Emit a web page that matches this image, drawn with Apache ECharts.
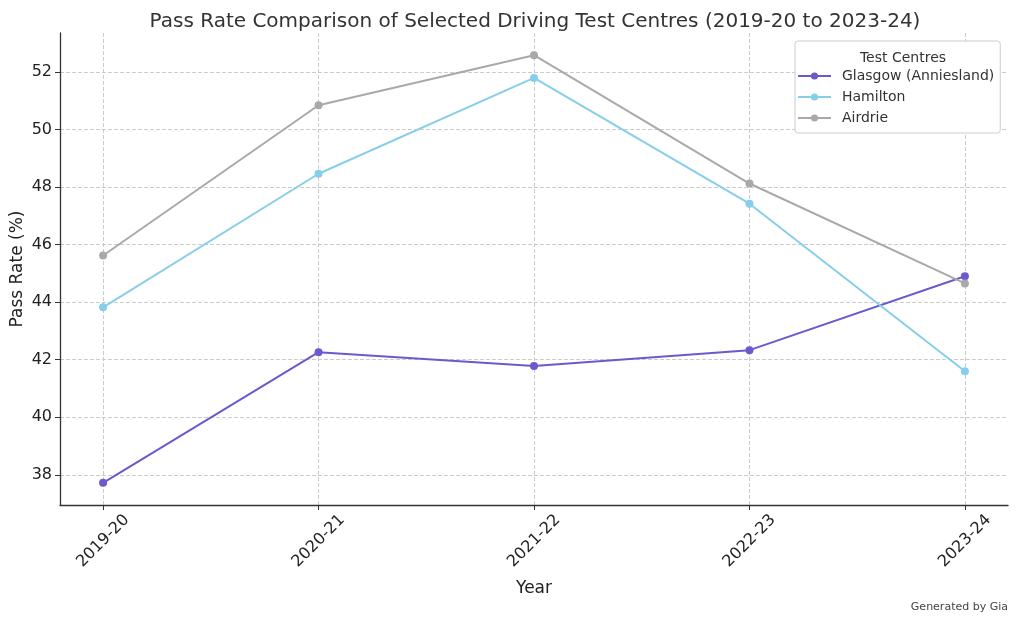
<!DOCTYPE html>
<html>
<head>
<meta charset="utf-8">
<script src="https://cdn.jsdelivr.net/npm/echarts@6/dist/echarts.min.js"></script>
<style>
  html, body { margin: 0; padding: 0; background: #fff; }
  #chart { width: 1024px; height: 618px; }
</style>
</head>
<body>
<div id="chart"></div>
<script>
// 年份类目
const years = ['2019-20', '2020-21', '2021-22', '2022-23', '2023-24'];
// 各考点通过率 (%)
const glasgow = [37.72, 42.26, 41.78, 42.33, 44.9];
const hamilton = [43.82, 48.46, 51.79, 47.42, 41.6];
const airdrie = [45.62, 50.84, 52.58, 48.12, 44.65];
// y轴刻度
const yTicks = [38, 40, 42, 44, 46, 48, 50, 52];

const fontFamily = '"DejaVu Sans", sans-serif';
const toPoints = (arr) => arr.map((v, i) => [i, v]);

const myChart = echarts.init(document.getElementById('chart'));

function makeSeries(name, data, color) {
  return {
    name: name,
    type: 'line',
    data: toPoints(data),
    symbol: 'circle',
    symbolSize: 8,
    lineStyle: { width: 2, color: color },
    itemStyle: { color: color },
    emphasis: { disabled: true },
  };
}

myChart.setOption({
  animation: false,
  textStyle: { fontFamily: fontFamily },
  title: [
    {
      text: 'Pass Rate Comparison of Selected Driving Test Centres (2019-20 to 2023-24)',
      left: 530,
      textAlign: 'center',
      top: 7,
      textStyle: { fontSize: 20, fontWeight: 'normal', color: '#333', fontFamily: fontFamily },
    },
    {
      text: 'Test Centres',
      left: 898,
      textAlign: 'center',
      top: 46,
      textStyle: { fontSize: 14, fontWeight: 'normal', color: '#333', fontFamily: fontFamily },
    },
    {
      text: 'Generated by Gia',
      right: 11,
      top: 597,
      textStyle: { fontSize: 11, fontWeight: 'normal', color: '#444', fontFamily: fontFamily },
    },
  ],
  legend: {
    orient: 'vertical',
    left: 795,
    top: 41,
    width: 206,
    padding: [27, 6, 7, 2],
    itemGap: 5,
    itemWidth: 33,
    itemHeight: 9,
    backgroundColor: '#fff',
    borderColor: '#ccc',
    borderWidth: 1,
    borderRadius: 3,
    textStyle: { fontSize: 14, color: '#333', fontFamily: fontFamily, lineHeight: 16, padding: [0, 0, 0, 6] },
    data: ['Glasgow (Anniesland)', 'Hamilton', 'Airdrie'],
  },
  grid: { left: 60, right: 16, top: 33, bottom: 113, outerBoundsMode: 'none' },
  xAxis: {
    type: 'value',
    min: -0.2,
    max: 4.2,
    name: 'Year',
    nameLocation: 'middle',
    nameGap: 75,
    nameMoveOverlap: false,
    nameTextStyle: { fontSize: 17, color: '#222' },
    axisLine: { onZero: false, lineStyle: { color: '#333', width: 1.3 } },
    axisTick: { show: true, length: 5, lineStyle: { color: '#333' }, customValues: [0, 1, 2, 3, 4] },
    axisLabel: {
      customValues: [0, 1, 2, 3, 4],
      formatter: (v) => years[Math.round(v)],
      rotate: 45,
      align: 'center',
      verticalAlign: 'middle',
      fontSize: 16,
      color: '#222',
      margin: 36,
    },
    splitLine: { show: true, lineStyle: { type: 'dashed', color: '#ccc' } },
  },
  yAxis: {
    type: 'value',
    min: 36.95,
    max: 53.35,
    name: 'Pass Rate (%)',
    nameLocation: 'middle',
    nameGap: 34,
    nameMoveOverlap: false,
    nameTextStyle: { fontSize: 17, color: '#222' },
    axisLine: { show: true, onZero: false, lineStyle: { color: '#333', width: 1.3 } },
    axisTick: { show: true, length: 5, lineStyle: { color: '#333' }, customValues: yTicks },
    axisLabel: { customValues: yTicks, fontSize: 16, color: '#222', margin: 8 },
    splitLine: { show: true, lineStyle: { type: 'dashed', color: '#ccc' } },
  },
  series: [
    makeSeries('Glasgow (Anniesland)', glasgow, '#6A5ACD'),
    makeSeries('Hamilton', hamilton, '#87CEEB'),
    makeSeries('Airdrie', airdrie, '#A9A9A9'),
  ],
});
</script>
</body>
</html>
